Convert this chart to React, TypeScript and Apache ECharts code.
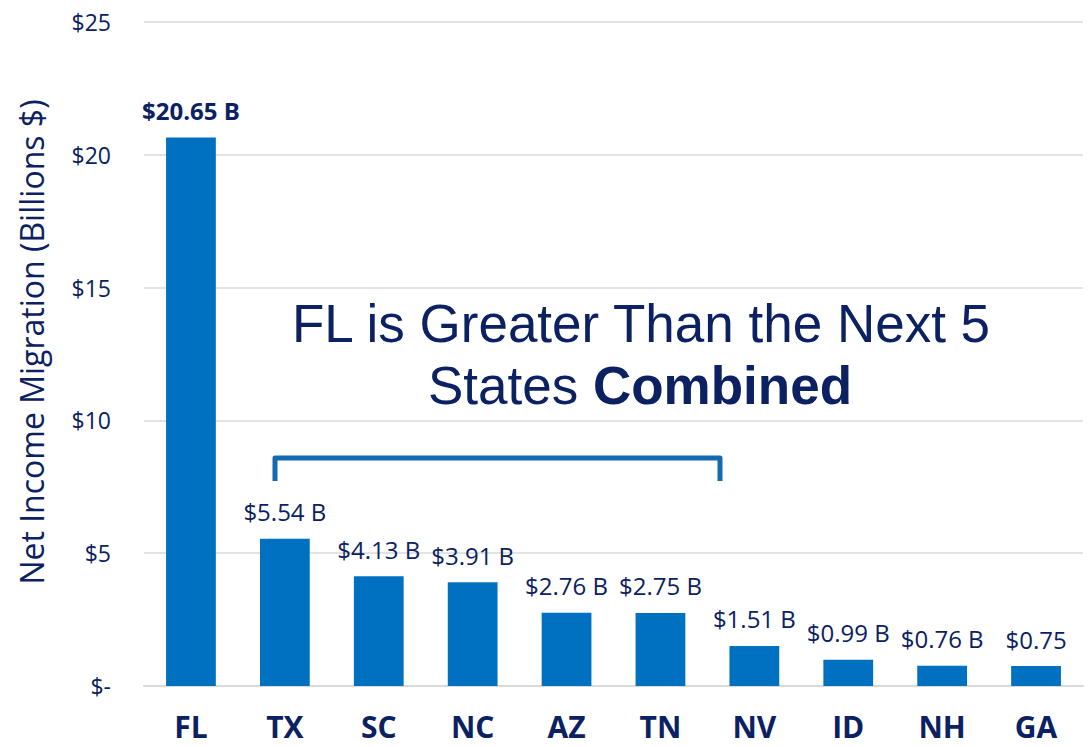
import React, { useEffect, useRef } from "react";
import * as echarts from "echarts";

const categories = ["FL", "TX", "SC", "NC", "AZ", "TN", "NV", "ID", "NH", "GA"];
const values = [20.65, 5.54, 4.13, 3.91, 2.76, 2.75, 1.51, 0.99, 0.76, 0.75];
const valueLabels = ["$20.65 B", "$5.54 B", "$4.13 B", "$3.91 B", "$2.76 B", "$2.75 B", "$1.51 B", "$0.99 B", "$0.76 B", "$0.75"];
const yTicks = [0, 5, 10, 15, 20, 25];

const NAVY = "#0B2161";
const BAR = "#0070C0";

export default function App() {
  const ref = useRef<HTMLDivElement>(null);
  useEffect(() => {
    document.body.style.margin = "0";
    const chart = echarts.init(ref.current!, undefined, { renderer: "svg" });
    chart.setOption({
      animation: false,
      backgroundColor: "#ffffff",
      grid: { left: 144, right: 5, top: 22, bottom: 61, containLabel: false },
      xAxis: {
        type: "category",
        data: categories,
        axisLine: { show: true, lineStyle: { color: "#D9D9D9", width: 2 } },
        axisTick: { show: false },
        axisLabel: {
          color: NAVY,
          fontFamily: "Open Sans",
          fontWeight: "bold",
          fontSize: 30,
          margin: 25,
        },
      },
      yAxis: {
        type: "value",
        min: 0,
        max: 25,
        interval: 5,
        name: "Net Income Migration (Billions $)",
        nameLocation: "middle",
        nameGap: 97,
        nameTextStyle: { color: NAVY, fontFamily: "Open Sans", fontSize: 32, padding: [0, 0, 0, 24] },
        axisLine: { show: false },
        axisTick: { show: false },
        splitLine: { lineStyle: { color: "#E3E3E3", width: 2 } },
        axisLabel: {
          color: NAVY,
          fontFamily: "Open Sans",
          fontSize: 23,
          margin: 33,
          formatter: (v: number) => (yTicks.includes(v) ? (v === 0 ? "$-" : "$" + v) : ""),
        },
      },
      series: [
        {
          type: "bar",
          data: values.map((v, i) => ({
            value: v,
            label: {
              fontWeight: i === 0 ? "bold" : "normal",
            },
          })),
          barWidth: "53%",
          itemStyle: { color: BAR },
          label: {
            show: true,
            position: "top",
            distance: 15,
            color: NAVY,
            fontFamily: "Open Sans",
            fontSize: 24,
            formatter: (p: any) => valueLabels[p.dataIndex],
          },
        },
      ],
      graphic: [
        {
          type: "polyline",
          shape: { points: [[275, 481], [275, 458], [720, 458], [720, 481]] },
          style: { stroke: "#1469B0", lineWidth: 5, fill: "none", lineJoin: "round" },
        },
        {
          type: "text",
          x: 641,
          y: 323,
          style: {
            text: "FL is Greater Than the Next 5",
            fill: NAVY,
            font: "53px 'Liberation Sans', Arial, sans-serif",
            align: "center",
            verticalAlign: "middle",
          },
        },
        {
          type: "text",
          x: 640,
          y: 385,
          style: {
            text: "{a|States }{b|Combined}",
            align: "center",
            verticalAlign: "middle",
            rich: {
              a: { fill: NAVY, fontFamily: "Liberation Sans", fontSize: 53 },
              b: { fill: NAVY, fontFamily: "Liberation Sans", fontSize: 53, fontWeight: "bold" },
            },
          },
        },
      ],
    });
    return () => chart.dispose();
  }, []);
  return <div ref={ref} style={{ width: 1088, height: 747 }} />;
}
